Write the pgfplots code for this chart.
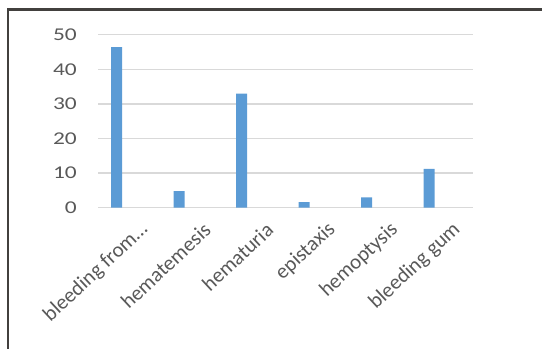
\documentclass[border=0pt]{standalone}
\usepackage{pgfplots}
\pgfplotsset{compat=1.18}
\usepackage{fontspec}
\setmainfont{Carlito}
\definecolor{barblue}{HTML}{5B9BD5}
\definecolor{txtgray}{HTML}{595959}
\definecolor{gridgray}{HTML}{D9D9D9}
\definecolor{frameclr}{RGB}{66,64,62}
\begin{document}
\begin{tikzpicture}
\path[use as bounding box] (0pt,0pt) rectangle (542pt,349pt);
\fill[frameclr] (6.8pt,0pt) rectangle (9.2pt,340.7pt);
\fill[frameclr] (6.8pt,338.3pt) rectangle (542pt,340.7pt);
\begin{axis}[
  at={(98.3pt,141.3pt)}, anchor=south west,
  scale only axis, width=375pt, height=173pt,
  xmin=-0.294, xmax=5.706, ymin=0, ymax=50,
  ytick={0,10,20,30,40,50},
  xtick={0,1,2,3,4,5},
  xticklabels={{bleeding from\ldots},{hematemesis},{hematuria},{epistaxis},{hemoptysis},{bleeding gum}},
  axis line style={draw=none},
  major tick style={draw=none},
  ymajorgrids, major grid style={gridgray, line width=1.3pt},
  /pgf/number format/assume math mode=true,
  yticklabel style={font=\fontsize{18}{18}\selectfont, text=txtgray, xscale=1.3, anchor=east, xshift=-13pt},
  xticklabel style={font=\fontsize{21}{21}\selectfont, text=txtgray, rotate=43, anchor=east, xshift=14pt, yshift=-30pt},
  ybar, bar width=11pt,
]
\addplot[fill=barblue, draw=none] coordinates {(0,46.4) (1,4.8) (2,33.0) (3,1.6) (4,3.0) (5,11.2)};
\end{axis}
\end{tikzpicture}
\end{document}
